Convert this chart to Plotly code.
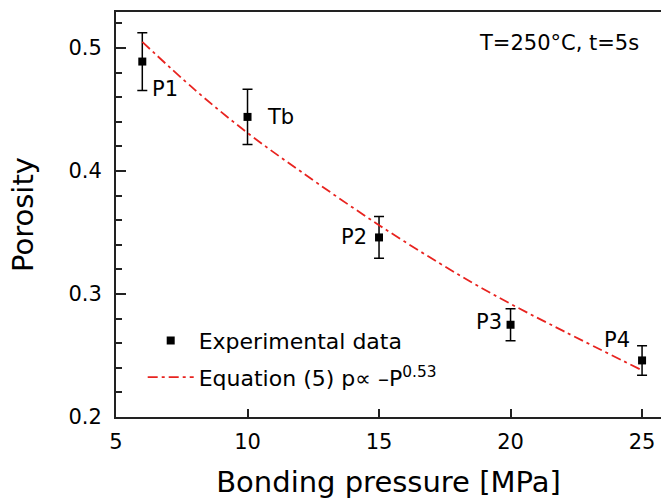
import plotly.graph_objects as go

# Experimental data
pressure = [6, 10, 15, 20, 25]
porosity = [0.489, 0.444, 0.346, 0.275, 0.246]
porosity_err = [0.0235, 0.0225, 0.017, 0.013, 0.012]
point_labels = ["P1", "Tb", "P2", "P3", "P4"]

# Equation (5) curve
fit_pressure = [6, 8, 10, 12, 15, 18, 20, 22, 25]
fit_porosity = [0.505, 0.466, 0.431, 0.400, 0.356, 0.316, 0.292, 0.270, 0.238]

x_ticks = [5, 10, 15, 20, 25]
y_ticks = [0.2, 0.3, 0.4, 0.5]

FONT = "DejaVu Sans"

fig = go.Figure()

fig.add_trace(go.Scatter(
    x=pressure, y=porosity, mode="markers",
    name="Experimental data", legendgroup="a",
    marker=dict(symbol="square", size=8, color="black"),
    error_y=dict(type="data", array=porosity_err, visible=True,
                 color="black", thickness=1.5, width=5),
))

fig.add_trace(go.Scatter(
    x=fit_pressure, y=fit_porosity, mode="lines",
    name="Equation (5) p\u221d \u2013P<sup>0.53</sup>", legendgroup="b",
    line=dict(color="#e8231f", width=1.8, dash="10px,4px,3px,4px", shape="spline"),
))

# point labels: (xanchor, xshift, yshift)
label_pos = [("left", 8, -27), ("left", 17, 0), ("right", -10, 0),
             ("right", -7, 3), ("right", -10, 20)]
for xv, yv, t, (xa, xs, ys) in zip(pressure, porosity, point_labels, label_pos):
    fig.add_annotation(x=xv, y=yv, xref="x", yref="y", text=t, showarrow=False,
                       xanchor=xa, yanchor="middle", xshift=xs, yshift=ys,
                       font=dict(family=FONT, size=21, color="black"))

fig.add_annotation(x=0.963, y=0.923, xref="paper", yref="paper",
                   text="T=250\u00b0C, t=5s", showarrow=False,
                   xanchor="right", yanchor="middle",
                   font=dict(family=FONT, size=21, color="black"))

fig.update_layout(
    width=661, height=500,
    margin=dict(l=116, r=0, t=12, b=83),
    paper_bgcolor="white", plot_bgcolor="white",
    font=dict(family=FONT, color="black"),
    showlegend=True,
    legend=dict(x=0.049, y=0.24, xanchor="left", yanchor="top",
                bgcolor="rgba(0,0,0,0)", borderwidth=0,
                font=dict(family=FONT, size=22, color="black"),
                itemwidth=46, traceorder="grouped", tracegroupgap=5),
    xaxis=dict(range=[5, 25.72], tickvals=x_ticks, ticktext=[str(v) for v in x_ticks],
               showline=True, linecolor="#222", linewidth=2, mirror=True,
               ticks="inside", ticklen=8, tickwidth=2, tickcolor="#222",
               showgrid=False, zeroline=False, ticklabelstandoff=5,
               tickfont=dict(family=FONT, size=21),
               title=dict(text="Bonding pressure [MPa]", standoff=18,
                          font=dict(family=FONT, size=29))),
    yaxis=dict(range=[0.2, 0.5293], tickvals=y_ticks, ticktext=["0.2", "0.3", "0.4", "0.5"],
               showline=True, linecolor="#222", linewidth=2, mirror=False,
               ticks="inside", ticklen=10, tickwidth=2, tickcolor="#222",
               minor=dict(dtick=0.02, tick0=0.2, ticks="inside", ticklen=6,
                          tickwidth=1.5, tickcolor="#222", showgrid=False),
               showgrid=False, zeroline=False, ticklabelstandoff=8,
               tickfont=dict(family=FONT, size=21),
               title=dict(text="Porosity", standoff=26,
                          font=dict(family=FONT, size=29))),
)

fig.write_html("out.html")
